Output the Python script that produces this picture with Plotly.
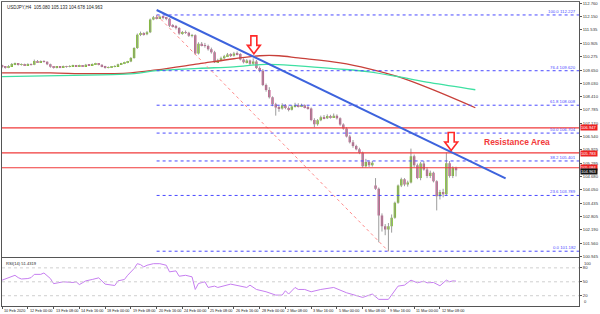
import plotly.graph_objects as go

# ---------------- data ----------------
title_text = "USDJPY,H4  105.080 105.133 104.678 104.963"
rsi_label = "RSI(14) 51.4319"

opens = [109.86,109.80,109.76,109.84,109.93,109.95,109.90,109.92,109.88,109.93,
         109.90,110.08,110.02,110.06,110.04,109.92,109.80,109.76,109.80,109.78,
         109.82,109.80,109.84,109.86,109.83,109.86,109.84,109.90,109.88,109.92,
         109.95,109.90,109.82,109.76,109.78,109.80,109.84,109.92,109.96,110.00,
         110.05,110.22,110.68,111.30,111.38,111.32,111.42,112.02,112.12,112.08,
         112.14,112.10,112.05,111.72,111.70,111.62,111.36,111.42,111.40,111.25,
         111.28,110.42,110.88,110.82,110.78,110.62,110.48,110.02,110.10,110.20,
         110.30,110.38,110.32,110.42,110.40,110.15,110.02,110.10,109.95,110.05,
         109.75,109.62,108.95,108.72,108.38,108.05,107.90,107.85,108.00,107.88,
         107.80,107.95,108.02,107.95,108.00,107.92,107.85,107.32,107.12,107.30,
         107.45,107.40,107.50,107.45,107.52,107.40,107.10,106.92,106.55,106.28,
         106.10,105.95,105.78,105.15,105.35,105.20,104.25,104.10,102.85,102.35,
         102.20,102.35,102.75,103.45,104.25,104.55,104.30,104.40,105.62,105.20,
         104.60,105.28,105.00,104.70,104.85,104.45,103.75,103.95,103.85,105.30,
         104.70,105.08]
highs = [109.90,109.84,109.88,109.98,110.00,109.98,109.96,109.95,109.97,109.96,
         110.14,110.12,110.10,110.11,110.06,109.95,109.84,109.84,109.83,109.86,
         109.85,109.88,109.90,109.89,109.90,109.88,109.94,109.93,109.96,109.99,
         109.97,109.92,109.85,109.82,109.84,109.88,109.95,109.99,110.04,110.08,
         110.26,110.72,111.36,111.45,111.42,111.48,112.06,112.18,112.227,112.20,
         112.18,112.14,112.08,111.80,111.76,111.66,111.48,111.50,111.44,111.34,
         111.32,110.95,110.96,110.92,110.84,110.70,110.55,110.18,110.28,110.36,
         110.45,110.44,110.50,110.52,110.44,110.20,110.16,110.14,110.20,110.12,
         109.82,109.70,109.02,108.85,108.42,108.12,108.00,108.10,108.06,107.95,
         108.02,108.12,108.10,108.08,108.05,107.98,107.90,107.40,107.36,107.52,
         107.55,107.58,107.56,107.62,107.58,107.44,107.16,106.98,106.62,106.38,
         106.16,106.02,105.84,105.50,105.42,105.40,104.60,104.16,102.95,102.45,
         102.50,102.90,103.50,104.30,104.62,104.60,104.48,105.98,105.70,105.28,
         105.35,105.40,105.10,104.95,104.90,104.50,104.05,104.10,105.80,105.40,
         105.15,105.133]
lows = [109.74,109.72,109.74,109.82,109.88,109.86,109.86,109.84,109.85,109.86,
        109.88,109.98,109.99,110.00,109.88,109.76,109.72,109.73,109.74,109.76,
        109.76,109.78,109.81,109.80,109.81,109.80,109.82,109.85,109.86,109.90,
        109.87,109.78,109.72,109.73,109.75,109.78,109.82,109.89,109.93,109.97,
        110.02,110.18,110.64,111.24,111.26,111.28,111.38,111.98,112.02,112.04,
        112.02,111.98,111.66,111.64,111.55,111.30,111.30,111.34,111.20,111.18,
        110.36,110.38,110.76,110.70,110.56,110.42,109.98,109.98,110.06,110.15,
        110.26,110.26,110.28,110.34,110.10,109.96,109.96,109.88,109.90,109.70,
        109.55,108.90,108.64,108.32,107.96,107.52,107.70,107.80,107.82,107.72,
        107.76,107.90,107.90,107.92,107.86,107.80,107.26,106.98,107.05,107.26,
        107.35,107.36,107.38,107.42,107.34,107.05,106.86,106.50,106.22,106.02,
        105.90,105.72,105.08,105.10,105.12,105.14,104.05,101.60,102.10,101.93,
        101.18,102.05,102.70,103.40,104.18,104.22,104.20,104.35,105.10,104.55,
        104.50,104.95,104.60,104.60,104.40,103.09,103.60,103.70,103.80,104.62,
        104.60,104.678]
closes = [109.80,109.76,109.84,109.93,109.95,109.90,109.92,109.88,109.93,109.90,
          110.08,110.02,110.06,110.04,109.92,109.80,109.76,109.80,109.78,109.82,
          109.80,109.84,109.86,109.83,109.86,109.84,109.90,109.88,109.92,109.95,
          109.90,109.82,109.76,109.78,109.80,109.84,109.92,109.96,110.00,110.05,
          110.22,110.68,111.30,111.38,111.32,111.42,112.02,112.12,112.08,112.14,
          112.10,112.05,111.72,111.70,111.62,111.36,111.42,111.40,111.25,111.28,
          110.42,110.88,110.82,110.78,110.62,110.48,110.02,110.10,110.20,110.30,
          110.38,110.32,110.42,110.40,110.15,110.02,110.10,109.95,110.05,109.75,
          109.62,108.95,108.72,108.38,108.05,107.90,107.85,108.00,107.88,107.80,
          107.95,108.02,107.95,108.00,107.92,107.85,107.32,107.12,107.30,107.45,
          107.40,107.50,107.45,107.52,107.40,107.10,106.92,106.55,106.28,106.10,
          105.95,105.78,105.15,105.35,105.20,105.32,104.10,102.85,102.35,102.20,
          102.35,102.75,103.45,104.25,104.55,104.30,104.40,105.62,105.20,104.60,
          105.28,105.00,104.70,104.85,104.45,103.75,103.95,103.85,105.30,104.70,
          105.08,104.963]

ma_red_idx = [0, 15, 27, 40, 48, 61, 72, 80, 86, 92, 105, 114, 123, 133, 147]
ma_red_val = [109.52, 109.52, 109.48, 109.52, 109.66, 109.94, 110.18, 110.32, 110.32,
              110.22, 109.99, 109.71, 109.34, 108.78, 107.89]
ma_green_idx = [0, 31, 41, 48, 61, 72, 82, 92, 104, 114, 123, 133, 147]
ma_green_val = [109.34, 109.43, 109.48, 109.62, 109.73, 109.80, 109.92, 109.85, 109.71,
                109.57, 109.34, 109.06, 108.73]

rsi_idx = [0, 3, 4, 5, 6, 8, 9, 10, 12, 13, 15, 16, 18, 19, 22, 23, 24, 26, 28, 30,
           32, 34, 35, 36, 38, 39, 41, 42, 43, 44, 45, 47, 49, 51, 52, 54, 55, 57, 59, 60,
           61, 63, 64, 66, 67, 71, 74, 76, 77, 79, 82, 85, 87, 88, 89, 91, 92, 94, 96, 99,
           103, 107, 112, 115, 117, 120, 123, 125, 127, 129, 131, 132, 134, 136, 138, 139,
           140, 141]
rsi_val = [53.5, 62, 64, 59, 56, 57, 59, 66, 66, 69, 57, 46, 48, 50, 48.5, 50, 44, 52, 55, 58.5,
           45, 43, 42, 52, 55, 64, 78.5, 89, 87, 82, 85.6, 89, 89, 85.6, 71.4, 73.5, 62, 64, 60.7, 33.5,
           46.4, 50, 37.8, 40.7, 37.8, 45, 40.7, 37.8, 42.8, 33.5, 28.5, 21.4, 21.4, 30.7, 23.6, 37.8,
           33.5, 33.5, 28.5, 33.5, 37.8, 26.4, 16.4, 23.6, 12.2, 12.2, 40.7, 42.8, 53.5, 47.8, 51.4,
           47.8, 48.5, 41.4, 53.5, 50, 52, 51.4319]
rsi_levels = [80, 50, 20]
rsi_tick_vals = [80, 50, 20]
rsi_edge_labels = ["100", "0"]

price_ticks = ["112.760", "112.150", "111.535", "110.905", "110.275", "109.650", "109.030",
               "108.410", "107.785", "107.170", "106.540", "105.925", "105.295", "104.680",
               "104.050", "103.435", "102.805", "102.190", "101.560", "100.945"]

date_idx = [0, 8, 16, 24, 32, 40, 48, 56, 64, 72, 80, 88, 96, 104, 112, 120, 128, 136]
date_labels = ["10 Feb 2020", "12 Feb 00:00", "13 Feb 08:00", "14 Feb 16:00", "18 Feb 00:00",
               "19 Feb 08:00", "20 Feb 16:00", "24 Feb 00:00", "25 Feb 08:00", "26 Feb 16:00",
               "28 Feb 00:00", "2 Mar 08:00", "3 Mar 16:00", "5 Mar 00:00", "6 Mar 08:00",
               "9 Mar 16:00", "11 Mar 00:00", "12 Mar 08:00"]

fib_high, fib_high_idx = 112.227, 48
fib_low, fib_low_idx = 101.182, 120
fib_levels = [100.0, 76.4, 61.8, 50.0, 38.2, 23.6, 0.0]

resistance_lines = [106.947, 105.783, 105.084]
last_price = 104.963

trend_start = (48, 112.46)
trend_end = (156.4, 104.585)

arrow_tips = [(78.2, 110.41), (139.5, 105.89)]
resistance_text_pos = (160.0, 106.31)

# ---------------- geometry ----------------
W, H = 600, 314
ML, MR, MT, MB = 1, 18, 1, 8
XR = [-0.03, 179.2]
YR = [100.927, 112.833]
RR = [-2.1, 100.9]
main_dom = [0.1623, 1.0]
rsi_dom = [0.0, 0.1574]
plot_w = W - ML - MR
plot_h = H - MT - MB
px_bar = plot_w / (XR[1] - XR[0])
px_price = plot_h * (main_dom[1] - main_dom[0]) / (YR[1] - YR[0])

GREEN = '#7cc31f'
PINK = '#c4558a'
FONT = 'Liberation Sans'

fig = go.Figure()

# wicks
wx, wy = [], []
for i, (h, l) in enumerate(zip(highs, lows)):
    wx += [i, i, None]
    wy += [l, h, None]
fig.add_trace(go.Scatter(x=wx, y=wy, mode='lines', line=dict(color='#9c9c9c', width=1),
                         xaxis='x', yaxis='y', hoverinfo='skip'))

idx = list(range(len(closes)))
body_base = [min(o, c) for o, c in zip(opens, closes)]
body_h = [max(abs(c - o), 0.02) for o, c in zip(opens, closes)]
body_col = [GREEN if c >= o else PINK for o, c in zip(opens, closes)]
fig.add_trace(go.Bar(x=idx, y=body_h, base=body_base, width=0.75,
                     marker=dict(color=body_col, line=dict(width=0)),
                     xaxis='x', yaxis='y', hoverinfo='skip'))

# moving averages
fig.add_trace(go.Scatter(x=ma_red_idx, y=ma_red_val, mode='lines',
                         line=dict(color='#c8403a', width=1.3, shape='spline', smoothing=1),
                         xaxis='x', yaxis='y'))
fig.add_trace(go.Scatter(x=ma_green_idx, y=ma_green_val, mode='lines',
                         line=dict(color='#3ee0a2', width=1.3, shape='spline', smoothing=1),
                         xaxis='x', yaxis='y'))

# RSI
fig.add_trace(go.Scatter(x=rsi_idx, y=rsi_val, mode='lines',
                         line=dict(color='#c67ef0', width=1),
                         xaxis='x2', yaxis='y2'))

shapes = []
annotations = []

# fib levels
rng = fib_high - fib_low
for lv in fib_levels:
    p = fib_low + lv / 100.0 * rng
    shapes.append(dict(type='line', xref='x', yref='y', x0=fib_high_idx, x1=XR[1], y0=p, y1=p,
                       line=dict(color='#4a4aff', width=1, dash='dot')))
    annotations.append(dict(xref='paper', yref='y', x=1, y=p, xanchor='right', yanchor='bottom',
                            xshift=-1, yshift=-1, showarrow=False,
                            text=f"{lv:.1f} {p:.3f}",
                            font=dict(size=4.3, color='#4a4aff', family=FONT)))

# fib diagonal
shapes.append(dict(type='line', xref='x', yref='y', x0=fib_high_idx, y0=fib_high,
                   x1=fib_low_idx, y1=fib_low, line=dict(color='#ff8a8a', width=1, dash='dot')))

# resistance lines
box_shift = [0, -1, 0]
for p, sh in zip(resistance_lines, box_shift):
    shapes.append(dict(type='line', xref='paper', yref='y', x0=0, x1=1, y0=p, y1=p,
                       line=dict(color='#f03a3a', width=1.2)))
    annotations.append(dict(xref='paper', yref='y', x=1, y=p, xanchor='left', yanchor='middle',
                            xshift=1, yshift=sh, showarrow=False, text=f"{p:.3f}", bgcolor='#ee2222',
                            borderpad=0, font=dict(size=4.1, color='white', family=FONT)))
annotations.append(dict(xref='paper', yref='y', x=1, y=last_price, xanchor='left', yanchor='top',
                        xshift=1, yshift=2, showarrow=False, text=f"{last_price:.3f}", bgcolor='#111111',
                        borderpad=0, font=dict(size=4.1, color='white', family=FONT)))

# trend line
shapes.append(dict(type='line', xref='x', yref='y', x0=trend_start[0], y0=trend_start[1],
                   x1=trend_end[0], y1=trend_end[1], line=dict(color='#3d63dd', width=2)))

# arrows (pixel sizes converted to data units)
def arrow_path(ti, tp):
    bx = 1.0 / px_bar
    by = 1.0 / px_price
    pts = [(0, 0), (-6.5, 8.5), (-3, 8.5), (-3, 18), (3, 18), (3, 8.5), (6.5, 8.5)]
    s = ""
    for k, (dx, dy) in enumerate(pts):
        s += ("M" if k == 0 else "L") + f"{ti + dx * bx},{tp + dy * by} "
    return s + "Z"

for ti, tp in arrow_tips:
    shapes.append(dict(type='path', xref='x', yref='y', path=arrow_path(ti, tp),
                       fillcolor='white', line=dict(color='#ff2a2a', width=1.6)))

annotations.append(dict(xref='x', yref='y', x=resistance_text_pos[0], y=resistance_text_pos[1],
                        showarrow=False, text="<b>Resistance Area</b>",
                        font=dict(size=8.5, color='#f23a3a', family=FONT)))

# RSI levels
for lv in rsi_levels:
    shapes.append(dict(type='line', xref='paper', yref='y2', x0=0, x1=1, y0=lv, y1=lv,
                       line=dict(color='#cfcfcf', width=1, dash='dot')))

# texts
annotations.append(dict(xref='paper', yref='paper', x=0, y=1, xanchor='left', yanchor='top',
                        xshift=3, yshift=-1, showarrow=False, text=title_text,
                        font=dict(size=4.5, color='#222', family=FONT)))
annotations.append(dict(xref='paper', yref='paper', x=0, y=rsi_dom[1], xanchor='left', yanchor='top',
                        xshift=2, yshift=-1, showarrow=False, text=rsi_label,
                        font=dict(size=4.1, color='#222', family=FONT)))
for di, dl in zip(date_idx, date_labels):
    annotations.append(dict(xref='x', yref='paper', x=di, y=0, xanchor='left', yanchor='top',
                            xshift=0, yshift=-1, showarrow=False, text=dl,
                            font=dict(size=3.8, color='#222', family=FONT)))
# RSI edge labels (100 and 0), kept just inside the panel like the terminal does
annotations.append(dict(xref='paper', yref='y2', x=1, y=RR[1], xanchor='left', yanchor='top',
                        xshift=3, yshift=-1, showarrow=False, text=rsi_edge_labels[0],
                        font=dict(size=4.1, color='#333', family=FONT)))
annotations.append(dict(xref='paper', yref='y2', x=1, y=RR[0], xanchor='left', yanchor='bottom',
                        xshift=3, yshift=0, showarrow=False, text=rsi_edge_labels[1],
                        font=dict(size=4.1, color='#333', family=FONT)))

axis_font = dict(size=4.2, color='#333', family=FONT)
fig.update_layout(
    width=W, height=H, margin=dict(l=ML, r=MR, t=MT, b=MB),
    paper_bgcolor='white', plot_bgcolor='white', showlegend=False, hovermode=False,
    shapes=shapes, annotations=annotations,
    xaxis=dict(domain=[0, 1], range=XR, anchor='y', showgrid=False, zeroline=False,
               showticklabels=False, ticks='', showline=True, mirror=True,
               linecolor='#6a6a6a', linewidth=1),
    yaxis=dict(domain=main_dom, range=YR, side='right', anchor='x',
               tickvals=[float(t) for t in price_ticks], ticktext=price_ticks,
               ticks='outside', ticklen=2, tickcolor='#555', tickfont=axis_font,
               showgrid=False, zeroline=False, showline=True, mirror=True,
               linecolor='#555', linewidth=1),
    xaxis2=dict(domain=[0, 1], range=XR, anchor='y2', showgrid=False, zeroline=False,
                tickvals=date_idx, showticklabels=False, ticks='outside', ticklen=2,
                tickcolor='#555', showline=True, mirror=True, linecolor='#555', linewidth=1),
    yaxis2=dict(domain=rsi_dom, range=RR, side='right', anchor='x2',
                tickvals=rsi_tick_vals, ticktext=[str(v) for v in rsi_tick_vals],
                ticks='outside', ticklen=2, tickcolor='#555', tickfont=axis_font,
                showgrid=False, zeroline=False, showline=True, mirror=True,
                linecolor='#555', linewidth=1),
)

fig.write_html("out.html")
